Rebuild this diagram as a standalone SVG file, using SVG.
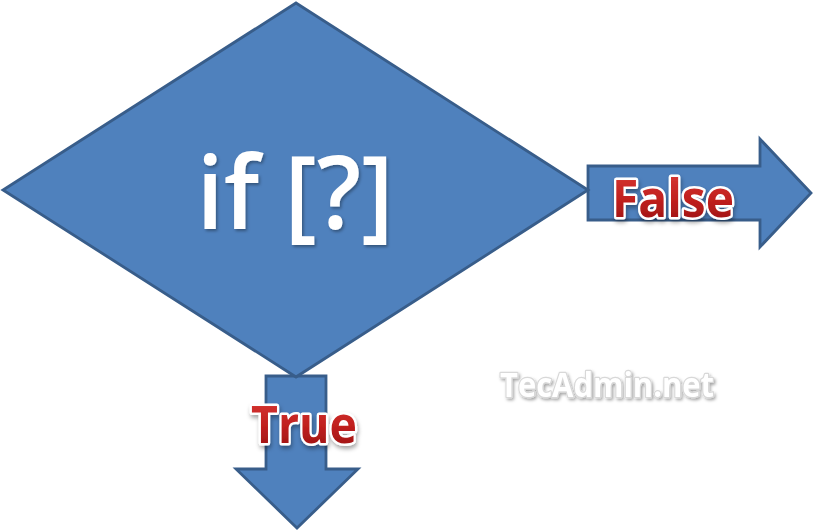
<svg xmlns="http://www.w3.org/2000/svg" width="815" height="532" viewBox="0 0 815 532">
  <defs>
    <filter id="shadow" x="-20%" y="-20%" width="140%" height="140%">
      <feDropShadow dx="1.5" dy="2" stdDeviation="1.5" flood-color="#000" flood-opacity="0.35"/>
    </filter>
    <filter id="lblshadow" x="-20%" y="-20%" width="140%" height="150%">
      <feDropShadow dx="1" dy="3" stdDeviation="2" flood-color="#000" flood-opacity="0.35"/>
    </filter>
    <linearGradient id="red" x1="0" y1="0" x2="0" y2="1">
      <stop offset="0" stop-color="#e0403c"/>
      <stop offset="0.55" stop-color="#c0201e"/>
      <stop offset="1" stop-color="#8e1010"/>
    </linearGradient>
  </defs>
  <style>
    .shape { fill: #4F81BD; stroke: #385D8A; stroke-width: 2.8; stroke-linejoin: miter; }
    .main { font-family: "Open Sans", "Noto Sans", sans-serif; font-weight: 600; fill: #ffffff; }
    .lbl { font-family: "Open Sans", "Noto Sans", sans-serif; font-weight: bold; fill: url(#red); stroke: #ffffff; stroke-width: 5; paint-order: stroke; stroke-linejoin: round; }
    .wm { font-family: "Open Sans", "Noto Sans", sans-serif; font-weight: bold; fill: #ffffff; stroke: #d8d8d8; stroke-width: 2.5; paint-order: stroke; stroke-linejoin: round; }
  </style>
  <g id="connectors">
    <polygon id="arrow-false" class="shape" points="588,166 760,166 760,139 811,193 760,247 760,220 588,220"/>
    <polygon id="arrow-true" class="shape" points="266,376 326,376 326,469 358,469 297,528 236,469 266,469"/>
  </g>
  <g id="decision">
    <polygon class="shape" points="296,3 588,190 296,377 3,190"/>
    <text class="main" x="295" y="229" font-size="102" text-anchor="middle" textLength="197" lengthAdjust="spacingAndGlyphs" filter="url(#shadow)">if [?]</text>
  </g>
  <g id="label-false">
    <text class="lbl" x="673" y="217" font-size="52" text-anchor="middle" textLength="122" lengthAdjust="spacingAndGlyphs" filter="url(#lblshadow)">False</text>
  </g>
  <g id="label-true">
    <text class="lbl" x="304" y="443" font-size="52" text-anchor="middle" textLength="106" lengthAdjust="spacingAndGlyphs" filter="url(#lblshadow)">True</text>
  </g>
  <g id="watermark">
    <text class="wm" x="607" y="397" font-size="34" text-anchor="middle" textLength="214" lengthAdjust="spacingAndGlyphs" filter="url(#shadow)">TecAdmin.net</text>
  </g>
</svg>
